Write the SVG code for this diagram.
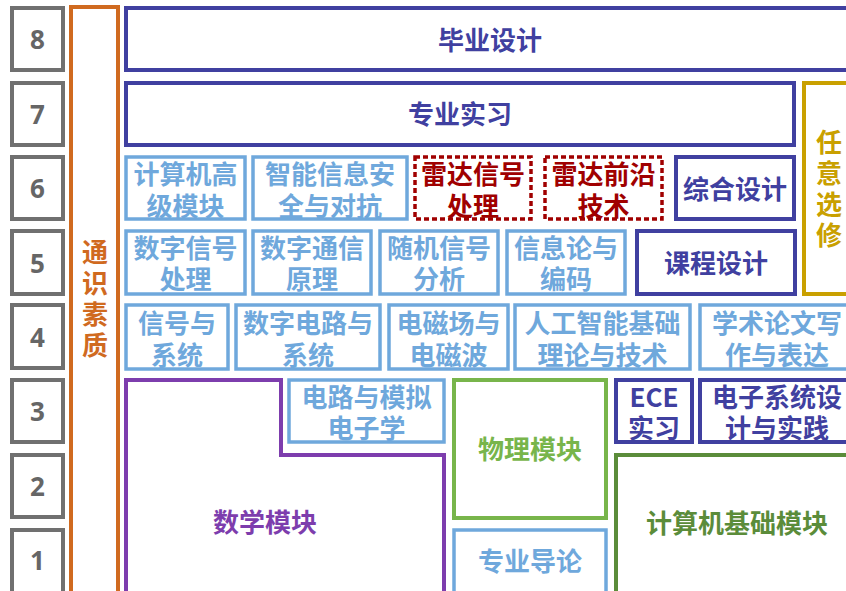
<svg xmlns="http://www.w3.org/2000/svg" width="846" height="591" viewBox="0 0 846 591">
<style>
text{font-family:"Noto Sans CJK SC","Noto Sans",sans-serif;font-weight:700;font-size:26px;text-anchor:middle;dominant-baseline:central}
.vt{writing-mode:vertical-rl;letter-spacing:5px}
rect,path{fill:#fff;stroke-width:4}
.num rect{stroke:#707070}
.num text{fill:#666;font-family:"Noto Sans","Noto Sans CJK SC",sans-serif;font-size:26px}
.or{stroke:#D06A1F}.tor{fill:#D06A1F}
.db{stroke:#4040A0}.tdb{fill:#4040A0}
.lb{stroke:#6FA8DC;stroke-width:3.5}.tlb{fill:#6FA8DC}
.rd{stroke:#A00000;stroke-width:3.5;stroke-dasharray:5 3}.trd{fill:#A00000}
.gd{stroke:#C9A000}.tgd{fill:#C9A000}
.pu{stroke:#7D3DAD}.tpu{fill:#7D3DAD}
.gr{stroke:#78B54B}.tgr{fill:#78B54B}
.dg{stroke:#5B8C3A}.tdg{fill:#5B8C3A}
</style>
<rect x="0" y="0" width="846" height="591" fill="#fff" stroke="none"/>
<g id="levels" class="num">
<g id="lv8"><rect x="12" y="8" width="51" height="62"/><text x="37.5" y="39">8</text></g>
<g id="lv7"><rect x="12" y="83" width="51" height="62"/><text x="37.5" y="114">7</text></g>
<g id="lv6"><rect x="12" y="157" width="51" height="62"/><text x="37.5" y="188">6</text></g>
<g id="lv5"><rect x="12" y="231" width="51" height="63"/><text x="37.5" y="262.5">5</text></g>
<g id="lv4"><rect x="12" y="305" width="51" height="63"/><text x="37.5" y="336.5">4</text></g>
<g id="lv3"><rect x="12" y="380" width="51" height="62"/><text x="37.5" y="411">3</text></g>
<g id="lv2"><rect x="12" y="455" width="51" height="62"/><text x="37.5" y="486">2</text></g>
<g id="lv1"><rect x="12" y="530" width="51" height="70"/><text x="37.5" y="560">1</text></g>
</g>
<g id="general"><rect class="or" x="71" y="7" width="47" height="595"/>
<text class="tor vt" x="95" y="301">通识素质</text></g>
<g id="graduation"><rect class="db" x="126" y="8" width="728" height="62"/><text class="tdb" x="490" y="38">毕业设计</text></g>
<g id="internship"><rect class="db" x="126" y="83" width="668" height="62"/><text class="tdb" x="460" y="112">专业实习</text></g>
<g id="elective"><rect class="gd" x="804" y="83" width="50" height="211"/>
<text class="tgd vt" x="829" y="191">任意选修</text></g>
<g id="adv-cs"><rect class="lb" x="126" y="157" width="119" height="62"/><text class="tlb"><tspan x="185.5" y="172">计算机高</tspan><tspan x="185.5" y="204">级模块</tspan></text></g>
<g id="infosec"><rect class="lb" x="253" y="157" width="154" height="62"/><text class="tlb"><tspan x="330" y="172">智能信息安</tspan><tspan x="330" y="204">全与对抗</tspan></text></g>
<g id="radar-sp"><rect class="rd" x="415" y="157" width="116" height="62"/><text class="trd"><tspan x="473" y="172">雷达信号</tspan><tspan x="473" y="204">处理</tspan></text></g>
<g id="radar-adv"><rect class="rd" x="545" y="157" width="117" height="62"/><text class="trd"><tspan x="603.5" y="172">雷达前沿</tspan><tspan x="603.5" y="204">技术</tspan></text></g>
<g id="integrated"><rect class="db" x="676" y="157" width="118" height="62"/><text class="tdb" x="735" y="187">综合设计</text></g>
<g id="dsp"><rect class="lb" x="126" y="231" width="119" height="63"/><text class="tlb"><tspan x="185.5" y="246">数字信号</tspan><tspan x="185.5" y="277">处理</tspan></text></g>
<g id="comm"><rect class="lb" x="253" y="231" width="118" height="63"/><text class="tlb"><tspan x="312" y="246">数字通信</tspan><tspan x="312" y="277">原理</tspan></text></g>
<g id="random"><rect class="lb" x="380" y="231" width="118" height="63"/><text class="tlb"><tspan x="439" y="246">随机信号</tspan><tspan x="439" y="277">分析</tspan></text></g>
<g id="info"><rect class="lb" x="507" y="231" width="118" height="63"/><text class="tlb"><tspan x="566" y="246">信息论与</tspan><tspan x="566" y="277">编码</tspan></text></g>
<g id="course"><rect class="db" x="637" y="231" width="158" height="63"/><text class="tdb" x="716" y="261">课程设计</text></g>
<g id="signals"><rect class="lb" x="126" y="305" width="102" height="64"/><text class="tlb"><tspan x="177" y="321">信号与</tspan><tspan x="177" y="353">系统</tspan></text></g>
<g id="digital"><rect class="lb" x="236" y="305" width="144" height="64"/><text class="tlb"><tspan x="308" y="321">数字电路与</tspan><tspan x="308" y="353">系统</tspan></text></g>
<g id="em"><rect class="lb" x="389" y="305" width="119" height="64"/><text class="tlb"><tspan x="448.5" y="321">电磁场与</tspan><tspan x="448.5" y="353">电磁波</tspan></text></g>
<g id="ai"><rect class="lb" x="515" y="305" width="175" height="64"/><text class="tlb"><tspan x="602.5" y="321">人工智能基础</tspan><tspan x="602.5" y="353">理论与技术</tspan></text></g>
<g id="writing"><rect class="lb" x="700" y="305" width="154" height="64"/><text class="tlb"><tspan x="777" y="321">学术论文写</tspan><tspan x="777" y="353">作与表达</tspan></text></g>
<g id="math"><path class="pu" d="M126,380 H281 V455 H444 V600 H126 Z"/><text class="tpu" x="265" y="520">数学模块</text></g>
<g id="circuits"><rect class="lb" x="289" y="380" width="155" height="62"/><text class="tlb"><tspan x="366.5" y="395">电路与模拟</tspan><tspan x="366.5" y="426">电子学</tspan></text></g>
<g id="physics"><rect class="gr" x="454" y="380" width="152" height="138"/><text class="tgr" x="530" y="447">物理模块</text></g>
<g id="intro"><rect class="lb" x="454" y="530" width="152" height="70"/><text class="tlb" x="530" y="559">专业导论</text></g>
<g id="ece"><rect class="db" x="616" y="380" width="76" height="62"/><text class="tdb"><tspan x="654" y="395">ECE</tspan><tspan x="654" y="426">实习</tspan></text></g>
<g id="esd"><rect class="db" x="700" y="380" width="154" height="62"/><text class="tdb"><tspan x="777" y="395">电子系统设</tspan><tspan x="777" y="426">计与实践</tspan></text></g>
<g id="cs-basic"><rect class="dg" x="616" y="455" width="238" height="145"/><text class="tdg" x="737" y="521">计算机基础模块</text></g>
<g id="connectors"/>
</svg>
